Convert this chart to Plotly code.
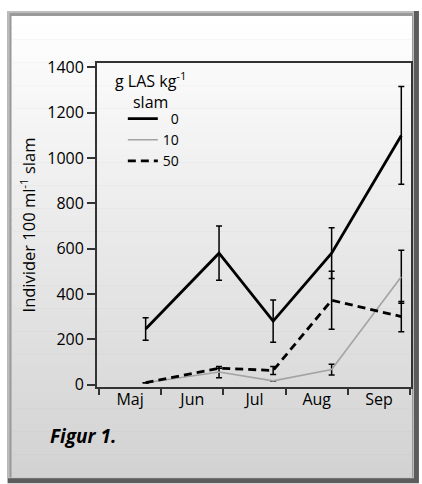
import plotly.graph_objects as go

# ---------------- data ----------------
months = ["Maj", "Jun", "Jul", "Aug", "Sep"]
month_centers = [0.5, 1.5, 2.5, 3.5, 4.5]
month_bounds = [0, 1, 2, 3, 4, 5]
sample_pos = [0.75, 1.93, 2.80, 3.74, 4.86]   # sampling dates, in months from 1 May

las0 = [245, 580, 280, 580, 1100]
err0 = [50, 120, 93, 112, 216]
las10 = [8, 55, 16, 66, 476]
err10 = [None, 25, None, 24, 117]
las50 = [8, 72, 62, 372, 300]
err50 = [None, None, 18, 128, 67]

series_names = ["\u20070", "10", "50"]
legend_title = "g LAS kg<sup>-1</sup><br>slam"
y_ticks = [0, 200, 400, 600, 800, 1000, 1200, 1400]

# ---------------- geometry ----------------
W, H = 422, 484
L, R, T, B = 97, 413, 63, 387.5
PW, PH = R - L, B - T


def px(x):
    return (x - L) / PW


def py(y):
    return (B - y) / PH


FONT = "Open Sans"

fig = go.Figure()

common_err = dict(type="data", color="black", thickness=1.5, width=3, visible=True)

fig.add_trace(go.Scatter(
    x=sample_pos, y=las0, mode="lines", name=series_names[0],
    line=dict(color="black", width=2.8),
    error_y=dict(array=err0, **common_err),
))
fig.add_trace(go.Scatter(
    x=sample_pos, y=las10, mode="lines", name=series_names[1],
    line=dict(color="#a3a3a3", width=1.6),
    error_y=dict(array=err10, **common_err),
))
fig.add_trace(go.Scatter(
    x=sample_pos, y=las50, mode="lines", name=series_names[2],
    line=dict(color="black", width=2.8, dash="8px,5px"),
    error_y=dict(array=err50, **common_err),
))

# ---------------- background frame + gradient panel ----------------
shapes = []
shapes.append(dict(type="rect", xref="paper", yref="paper", layer="below",
                   x0=px(7), x1=px(421), y0=py(11), y1=py(484),
                   fillcolor="#5c5c5c", line=dict(width=0)))
shapes.append(dict(type="rect", xref="paper", yref="paper", layer="below",
                   x0=px(7), x1=px(416), y0=py(11), y1=py(479),
                   fillcolor="#bdbdbd", line=dict(width=0)))
shapes.append(dict(type="rect", xref="paper", yref="paper", layer="below",
                   x0=px(9), x1=px(415), y0=py(13), y1=py(478),
                   fillcolor="#9a9a9a", line=dict(width=0)))
top_y, bot_y = 16, 478
n = 60
for i in range(n):
    y0 = top_y + (bot_y - top_y) * i / n
    y1 = top_y + (bot_y - top_y) * (i + 1) / n
    t = (i + 0.5) / n
    g = int(round(255 - 45 * t))
    shapes.append(dict(type="rect", xref="paper", yref="paper", layer="below",
                       x0=px(11), x1=px(414), y0=py(y0), y1=py(y1 + 0.5),
                       fillcolor=f"rgb({g},{g},{g})", line=dict(width=0)))

annotations = [
    dict(text="<b><i>Figur 1.</i></b>", x=px(48), y=py(437), xref="paper", yref="paper",
         xanchor="left", yanchor="middle", showarrow=False,
         font=dict(family=FONT, size=19, color="black")),
    dict(text=legend_title, x=px(151), y=py(91), xref="paper", yref="paper",
         xanchor="center", yanchor="middle", align="center", showarrow=False,
         borderpad=0,
         font=dict(family=FONT, size=16, color="black")),
]

fig.update_layout(
    width=W, height=H,
    margin=dict(l=L, r=W - R, t=T, b=H - B, pad=0),
    paper_bgcolor="white",
    plot_bgcolor="rgba(0,0,0,0)",
    font=dict(family=FONT, size=16, color="black"),
    shapes=shapes,
    annotations=annotations,
    showlegend=True,
    legend=dict(
        x=px(123), y=py(103), xanchor="left", yanchor="top",
        bgcolor="rgba(0,0,0,0)", borderwidth=0,
        font=dict(family=FONT, size=14, color="black"),
        tracegroupgap=0, itemwidth=30,
    ),
)

fig.update_xaxes(
    range=[-0.032, 5.016],
    tickmode="array", tickvals=month_centers, ticktext=months,
    ticks="", showgrid=False, zeroline=False,
    showline=True, linecolor="#333", linewidth=1.8, mirror=True,
    tickfont=dict(family=FONT, size=16, color="black"),
    ticklabelstandoff=-3,
    minor=dict(tickmode="array", tickvals=month_bounds, ticks="outside",
               ticklen=6, tickwidth=1.5, tickcolor="#333", showgrid=False),
)
fig.update_yaxes(
    range=[-11, 1419.8],
    tickmode="array", tickvals=y_ticks,
    ticks="outside", ticklen=8, tickwidth=1.5, tickcolor="#333",
    showgrid=False, zeroline=False,
    showline=True, linecolor="#333", linewidth=1.8, mirror=True,
    tickfont=dict(family=FONT, size=16, color="black"),
    title=dict(text="Individer 100 ml<sup>-1</sup> slam", standoff=8,
               font=dict(family=FONT, size=16.5, color="black")),
)

fig.write_html("out.html")
